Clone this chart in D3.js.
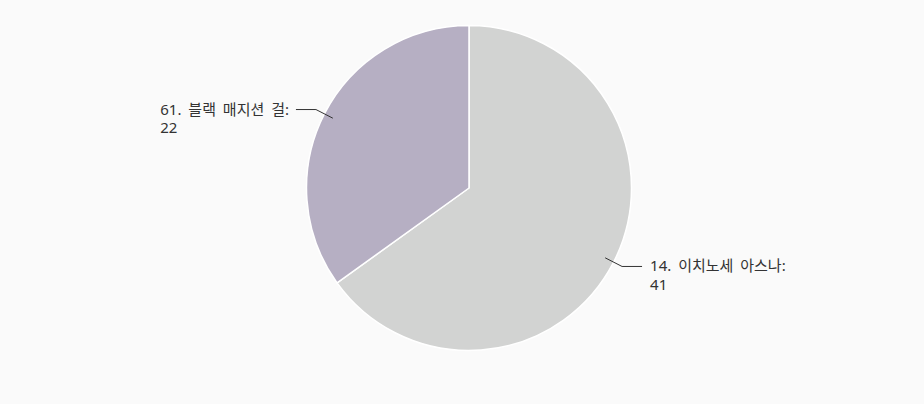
<!DOCTYPE html>
<html>
<head>
<meta charset="utf-8">
<script src="https://cdn.jsdelivr.net/npm/d3@7"></script>
<style>
  html, body { margin: 0; padding: 0; background: #fafafa; }
  svg { display: block; }
  .pie-label { font-family: "Noto Sans", "Noto Sans CJK KR", sans-serif; font-size: 15px; word-spacing: 3px; fill: #333; }
</style>
</head>
<body>
<div id="chart"></div>
<script>
// slice data, clockwise from 12 o'clock
const names = ["14. 이치노세 아스나", "61. 블랙 매지션 걸"];
const counts = [41, 22];
const colors = ["#d2d3d2", "#b6afc3"];

const width = 924, height = 404;
const cx = 469, cy = 188, radius = 162.5;

let svg = d3.select('#chart')
    .append('svg')
    .attr('width', width)
    .attr('height', height);

let g = svg.append('g')
    .attr('transform', 'translate(' + cx + ',' + cy + ')');

let pie = d3.pie().sort(null).value(function(d) { return d; });
let arcs = pie(counts);

let arc = d3.arc().innerRadius(0).outerRadius(radius);

g.selectAll('path')
    .data(arcs)
    .enter()
    .append('path')
    .attr('d', arc)
    .attr('fill', function(d, i) { return colors[i]; })
    .attr('stroke', '#ffffff')
    .attr('stroke-width', 1.5)
    .attr('stroke-linejoin', 'round');

// connector: from inside the edge out past it, then horizontal
function polar(r, a) {
    return [r * Math.sin(a), -r * Math.cos(a)];
}

arcs.forEach(function(d, i) {
    let mid = (d.startAngle + d.endAngle) / 2;
    let right = Math.sin(mid) > 0;
    let p0 = polar(radius - 9.5, mid);
    let p1 = polar(radius + 9.5, mid);
    let p2 = [p1[0] + (right ? 20 : -20), p1[1]];

    g.append('polyline')
        .attr('points', [p0, p1, p2].map(function(p) { return p.join(','); }).join(' '))
        .attr('fill', 'none')
        .attr('stroke', '#333')
        .attr('stroke-width', 1);

    let tx = p2[0] + (right ? 8 : -7);
    let text = g.append('text')
        .classed('pie-label', true)
        .attr('x', tx)
        .attr('y', p2[1] + 5)
        .attr('text-anchor', right ? 'start' : 'end');
    text.append('tspan')
        .attr('x', tx)
        .text(names[i] + ':');
    // second line starts at the first line's left edge
    let line1Width = text.node().getComputedTextLength();
    let lx = right ? tx : tx - line1Width;
    text.append('tspan')
        .attr('x', lx)
        .attr('dy', 18.5)
        .attr('text-anchor', 'start')
        .text(counts[i]);
});
</script>
</body>
</html>
